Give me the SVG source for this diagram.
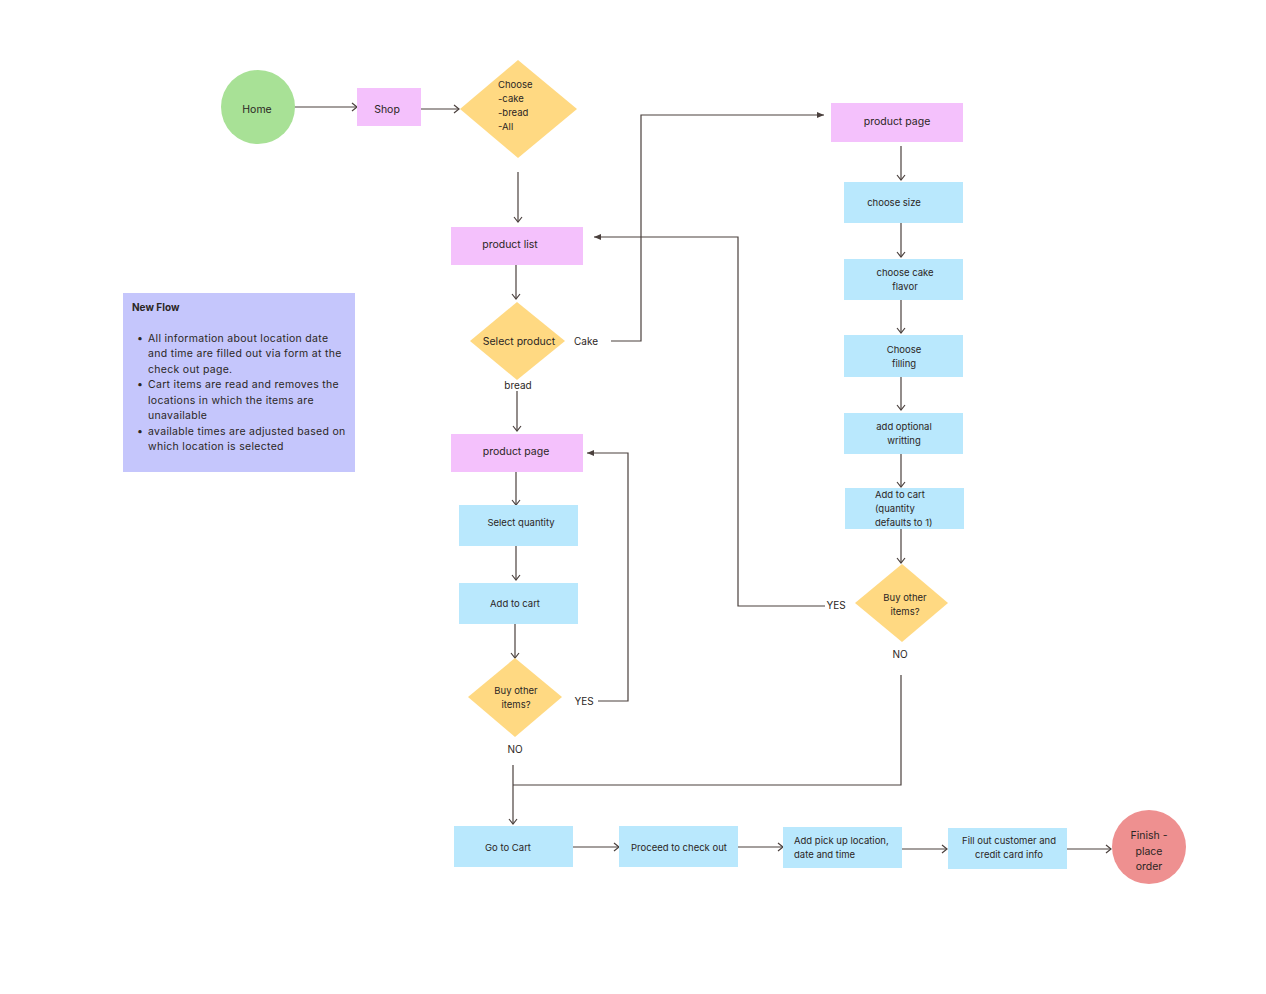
<svg xmlns="http://www.w3.org/2000/svg" width="1266" height="994" viewBox="0 0 1266 994">
<style>
text{font-family:Inter,"Open Sans","Liberation Sans",sans-serif;fill:#2b2624;}
.t{font-size:10.5px;text-anchor:middle;}
.s{font-size:9.5px;text-anchor:middle;}
.l{font-size:9.5px;}
.lb{font-size:10px;text-anchor:middle;}
.n{font-size:10.5px;letter-spacing:0.3px;}
.pink{fill:#f4c1fc;}
.blue{fill:#b9e8fd;}
.yel{fill:#ffd982;}
.c{fill:none;stroke:#4a403d;stroke-width:1.2;}
</style>
<defs>
<marker id="a" markerWidth="10" markerHeight="10" refX="8" refY="5" orient="auto" markerUnits="userSpaceOnUse">
<path d="M3,1 L8,5 L3,9" fill="none" stroke="#4a403d" stroke-width="1.2"/>
</marker>
<marker id="f" markerWidth="10" markerHeight="10" refX="8" refY="5" orient="auto" markerUnits="userSpaceOnUse">
<path d="M1,2 L8,5 L1,8 Z" fill="#4a403d"/>
</marker>
</defs>
<rect width="1266" height="994" fill="#ffffff"/>

<g id="connectors">
<path class="c" d="M294,107 H357" marker-end="url(#a)"/>
<path class="c" d="M421,109 H459" marker-end="url(#a)"/>
<path class="c" d="M518,172 V222" marker-end="url(#a)"/>
<path class="c" d="M516,265 V299" marker-end="url(#a)"/>
<path class="c" d="M611,341 H641 V115 H824" marker-end="url(#f)"/>
<path class="c" d="M517,391 V431" marker-end="url(#a)"/>
<path class="c" d="M516,472 V505" marker-end="url(#a)"/>
<path class="c" d="M516,546 V580" marker-end="url(#a)"/>
<path class="c" d="M515,624 V658" marker-end="url(#a)"/>
<path class="c" d="M598,701 H628 V453 H587" marker-end="url(#f)"/>
<path class="c" d="M513,765 V824" marker-end="url(#a)"/>
<path class="c" d="M513,785 H901 V675"/>
<path class="c" d="M901,146 V180" marker-end="url(#a)"/>
<path class="c" d="M901,223 V257" marker-end="url(#a)"/>
<path class="c" d="M901,300 V333" marker-end="url(#a)"/>
<path class="c" d="M901,377 V410" marker-end="url(#a)"/>
<path class="c" d="M901,454 V487" marker-end="url(#a)"/>
<path class="c" d="M901,529 V563" marker-end="url(#a)"/>
<path class="c" d="M825,606 H738 V237 H594" marker-end="url(#f)"/>
<path class="c" d="M573,847 H619" marker-end="url(#a)"/>
<path class="c" d="M738,847 H783" marker-end="url(#a)"/>
<path class="c" d="M902,849 H947" marker-end="url(#a)"/>
<path class="c" d="M1067,849 H1111" marker-end="url(#a)"/>
</g>

<g id="home"><circle cx="258" cy="107" r="37" fill="#a8e196"/><text class="t" x="257" y="113">Home</text></g>
<g id="shop"><rect class="pink" x="357" y="88" width="64" height="38"/><text class="t" x="387" y="113">Shop</text></g>
<g id="choose"><polygon class="yel" points="518,60 577,109 518,158 460,109"/>
<text class="l" x="498" y="88">Choose</text><text class="l" x="498" y="102">-cake</text><text class="l" x="498" y="116">-bread</text><text class="l" x="498" y="130">-All</text></g>

<g id="productlist"><rect class="pink" x="451" y="227" width="132" height="38"/><text class="t" x="510" y="248">product list</text></g>
<g id="selectproduct"><polygon class="yel" points="517,302 565,341 517,380 470,341"/><text class="t" x="519" y="345">Select product</text></g>
<g id="lbl-cake"><text class="lb" x="586" y="345">Cake</text></g>
<g id="lbl-bread"><text class="lb" x="518" y="389">bread</text></g>
<g id="productpage1"><rect class="pink" x="451" y="434" width="132" height="38"/><text class="t" x="516" y="455">product page</text></g>
<g id="selectquantity"><rect class="blue" x="459" y="505" width="119" height="41"/><text class="s" x="521" y="526">Select quantity</text></g>
<g id="addtocart1"><rect class="blue" x="459" y="583" width="119" height="41"/><text class="s" x="515" y="607">Add to cart</text></g>
<g id="buyother1"><polygon class="yel" points="515,658 562,697 515,737 468,697"/><text class="s" x="516" y="694">Buy other</text><text class="s" x="516" y="708">items?</text></g>
<g id="lbl-yes1"><text class="lb" x="584" y="705">YES</text></g>
<g id="lbl-no1"><text class="lb" x="515" y="753">NO</text></g>

<g id="productpage2"><rect class="pink" x="831" y="103" width="132" height="39"/><text class="t" x="897" y="125">product page</text></g>
<g id="choosesize"><rect class="blue" x="844" y="182" width="119" height="41"/><text class="s" x="894" y="206">choose size</text></g>
<g id="chooseflavor"><rect class="blue" x="844" y="259" width="119" height="41"/><text class="s" x="905" y="276">choose cake</text><text class="s" x="905" y="290">flavor</text></g>
<g id="choosefilling"><rect class="blue" x="844" y="335" width="119" height="42"/><text class="s" x="904" y="353">Choose</text><text class="s" x="904" y="367">filling</text></g>
<g id="addwriting"><rect class="blue" x="844" y="413" width="119" height="41"/><text class="s" x="904" y="430">add optional</text><text class="s" x="904" y="444">writting</text></g>
<g id="addtocart2"><rect class="blue" x="845" y="488" width="119" height="41"/><text class="l" x="875" y="498">Add to cart</text><text class="l" x="875" y="512">(quantity</text><text class="l" x="875" y="526">defaults to 1)</text></g>
<g id="buyother2"><polygon class="yel" points="902,564 948,603 902,642 855,603"/><text class="s" x="905" y="601">Buy other</text><text class="s" x="905" y="615">items?</text></g>
<g id="lbl-yes2"><text class="lb" x="836" y="609">YES</text></g>
<g id="lbl-no2"><text class="lb" x="900" y="658">NO</text></g>

<g id="gotocart"><rect class="blue" x="454" y="826" width="119" height="41"/><text class="s" x="508" y="851">Go to Cart</text></g>
<g id="checkout"><rect class="blue" x="619" y="826" width="119" height="41"/><text class="s" x="679" y="851">Proceed to check out</text></g>
<g id="pickup"><rect class="blue" x="783" y="827" width="119" height="41"/><text class="l" x="794" y="844">Add pick up location,</text><text class="l" x="794" y="858">date and time</text></g>
<g id="fillout"><rect class="blue" x="948" y="828" width="119" height="41"/><text class="s" x="1009" y="844">Fill out customer and</text><text class="s" x="1009" y="858">credit card info</text></g>
<g id="finish"><circle cx="1149" cy="847" r="37" fill="#ee9090"/><text class="t" x="1149" y="839">Finish -</text><text class="t" x="1149" y="855">place</text><text class="t" x="1149" y="870">order</text></g>

<g id="note"><rect x="123" y="293" width="232" height="179" fill="#c5c6fc"/>
<text x="132" y="311" font-size="10px" font-weight="bold">New Flow</text>
<text class="n" x="137" y="342">•</text><text class="n" x="148" y="342">All information about location date</text>
<text class="n" x="148" y="357">and time are filled out via form at the</text>
<text class="n" x="148" y="373">check out page.</text>
<text class="n" x="137" y="388">•</text><text class="n" x="148" y="388">Cart items are read and removes the</text>
<text class="n" x="148" y="404">locations in which the items are</text>
<text class="n" x="148" y="419">unavailable</text>
<text class="n" x="137" y="435">•</text><text class="n" x="148" y="435">available times are adjusted based on</text>
<text class="n" x="148" y="450">which location is selected</text>
</g>
</svg>
